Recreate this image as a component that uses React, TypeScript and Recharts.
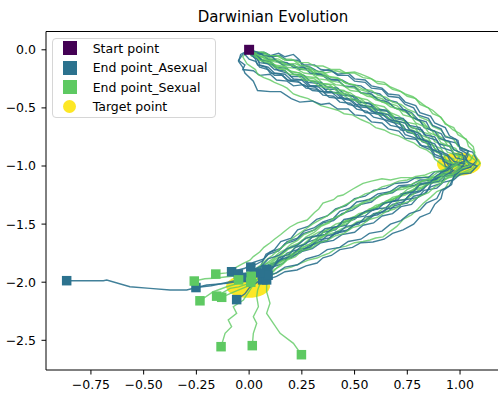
import React from "react";
import { ScatterChart, Scatter, XAxis, YAxis, ReferenceLine } from "recharts";

type P = [number, number];

const TITLE = "Darwinian Evolution";
const X_TICKS = [-0.75, -0.5, -0.25, 0, 0.25, 0.5, 0.75, 1.0];
const Y_TICKS = [0, -0.5, -1.0, -1.5, -2.0, -2.5];
const X_DOMAIN: [number, number] = [-0.963, 1.18];
const Y_DOMAIN: [number, number] = [-2.7556, 0.1575];

const LEGEND_LABELS = ["Start point", "End point_Asexual", "End point_Sexual", "Target point"];

const START: P[] = [[0, 0]];
const TARGETS: P[] = [[0.995, -0.983], [-0.005, -2.035]];

// Asexual trajectories
const B1: P[] = [[0,0],[0.03,-0.03],[0.07,-0.02],[0.1,-0.05],[0.14,-0.03],[0.17,-0.06],[0.21,-0.04],[0.24,-0.09],[0.25,-0.13],[0.29,-0.15],[0.33,-0.19],[0.38,-0.17],[0.42,-0.21],[0.47,-0.2],[0.5,-0.25],[0.55,-0.26],[0.58,-0.31],[0.63,-0.33],[0.66,-0.38],[0.71,-0.39],[0.74,-0.45],[0.79,-0.48],[0.81,-0.54],[0.86,-0.57],[0.88,-0.63],[0.93,-0.67],[0.95,-0.74],[0.99,-0.78],[1.0,-0.86],[1.04,-0.9],[1.02,-0.97],[0.97,-1.0],[0.95,-1.06],[0.9,-1.08],[0.87,-1.14],[0.81,-1.15],[0.78,-1.21],[0.72,-1.24],[0.69,-1.3],[0.63,-1.32],[0.59,-1.38],[0.53,-1.41],[0.5,-1.46],[0.44,-1.49],[0.41,-1.55],[0.35,-1.57],[0.32,-1.63],[0.27,-1.66],[0.23,-1.72],[0.18,-1.75],[0.14,-1.82],[0.09,-1.85],[0.06,-1.91],[0.01,-1.95],[-0.04,-1.99],[-0.106,-2.01],[-0.201,-2.024],[-0.296,-2.067],[-0.375,-2.067],[-0.47,-2.053],[-0.565,-2.039],[-0.675,-1.981],[-0.691,-1.987],[-0.865,-1.987]];
const B2: P[] = [[0,0],[-0.03,-0.04],[-0.05,-0.09],[-0.02,-0.13],[-0.03,-0.17],[0.02,-0.18],[0.05,-0.22],[0.1,-0.21],[0.13,-0.26],[0.18,-0.27],[0.21,-0.31],[0.26,-0.3],[0.3,-0.35],[0.35,-0.36],[0.38,-0.41],[0.44,-0.42],[0.47,-0.47],[0.52,-0.49],[0.55,-0.54],[0.61,-0.55],[0.64,-0.6],[0.69,-0.63],[0.72,-0.69],[0.77,-0.7],[0.8,-0.76],[0.84,-0.79],[0.86,-0.85],[0.9,-0.88],[0.92,-0.94],[0.96,-0.97],[0.94,-1.03],[0.91,-1.08],[0.88,-1.13],[0.84,-1.16],[0.81,-1.22],[0.76,-1.25],[0.73,-1.31],[0.68,-1.33],[0.64,-1.39],[0.59,-1.41],[0.55,-1.47],[0.5,-1.5],[0.46,-1.56],[0.41,-1.58],[0.37,-1.64],[0.31,-1.66],[0.27,-1.72],[0.22,-1.74],[0.18,-1.8],[0.13,-1.83],[0.09,-1.89],[0.04,-1.92],[0.0,-1.96],[-0.05,-1.98],[-0.1,-2.0],[-0.18,-2.03],[-0.252,-2.046]];
const B3: P[] = [[0,0],[0.02,-0.04],[0.06,-0.04],[0.09,-0.08],[0.13,-0.09],[0.16,-0.13],[0.21,-0.13],[0.24,-0.17],[0.28,-0.16],[0.31,-0.21],[0.36,-0.22],[0.39,-0.26],[0.44,-0.26],[0.48,-0.3],[0.53,-0.31],[0.57,-0.36],[0.62,-0.38],[0.65,-0.43],[0.7,-0.45],[0.73,-0.51],[0.77,-0.54],[0.8,-0.6],[0.84,-0.62],[0.86,-0.69],[0.91,-0.72],[0.93,-0.78],[0.98,-0.8],[1.01,-0.86],[1.06,-0.88],[1.08,-0.95],[1.05,-1.01],[1.0,-1.03],[0.97,-1.08],[0.91,-1.09],[0.87,-1.12],[0.81,-1.12],[0.77,-1.16],[0.71,-1.17],[0.67,-1.22],[0.61,-1.24],[0.57,-1.29],[0.51,-1.31],[0.48,-1.36],[0.43,-1.39],[0.4,-1.45],[0.35,-1.48],[0.31,-1.53],[0.26,-1.56],[0.23,-1.62],[0.18,-1.65],[0.15,-1.71],[0.1,-1.74],[0.07,-1.8],[0.02,-1.83],[-0.02,-1.88],[-0.083,-1.91]];
const B4: P[] = [[0,0],[-0.04,-0.04],[-0.05,-0.1],[-0.03,-0.15],[-0.02,-0.2],[0.02,-0.27],[0.04,-0.35],[0.1,-0.36],[0.15,-0.36],[0.2,-0.42],[0.24,-0.45],[0.3,-0.44],[0.34,-0.47],[0.38,-0.46],[0.42,-0.51],[0.47,-0.51],[0.5,-0.56],[0.55,-0.57],[0.58,-0.62],[0.63,-0.63],[0.66,-0.68],[0.71,-0.7],[0.74,-0.76],[0.79,-0.77],[0.82,-0.83],[0.86,-0.86],[0.88,-0.92],[0.93,-0.95],[0.95,-1.01],[0.91,-1.05],[0.89,-1.11],[0.86,-1.16],[0.84,-1.23],[0.8,-1.27],[0.77,-1.33],[0.72,-1.35],[0.68,-1.41],[0.63,-1.43],[0.59,-1.49],[0.54,-1.51],[0.5,-1.57],[0.44,-1.59],[0.4,-1.64],[0.34,-1.66],[0.3,-1.71],[0.24,-1.74],[0.2,-1.79],[0.14,-1.81],[0.1,-1.86],[0.04,-1.88],[0.0,-1.92],[-0.051,-1.93]];
const B5: P[] = [[0,0],[0.04,-0.05],[0.06,-0.09],[0.1,-0.1],[0.13,-0.15],[0.18,-0.16],[0.21,-0.21],[0.26,-0.22],[0.29,-0.27],[0.34,-0.28],[0.37,-0.32],[0.42,-0.33],[0.45,-0.38],[0.5,-0.4],[0.53,-0.45],[0.58,-0.47],[0.61,-0.52],[0.66,-0.53],[0.69,-0.59],[0.74,-0.61],[0.77,-0.67],[0.82,-0.69],[0.84,-0.75],[0.89,-0.78],[0.91,-0.84],[0.96,-0.87],[0.98,-0.93],[1.03,-0.95],[1.05,-1.01],[1.0,-1.04],[0.97,-1.1],[0.95,-1.17],[0.91,-1.21],[0.89,-1.28],[0.84,-1.32],[0.81,-1.38],[0.76,-1.41],[0.72,-1.47],[0.67,-1.5],[0.63,-1.56],[0.57,-1.58],[0.53,-1.63],[0.47,-1.65],[0.43,-1.7],[0.37,-1.72],[0.33,-1.77],[0.27,-1.8],[0.23,-1.85],[0.17,-1.87],[0.13,-1.92],[0.08,-1.95],[0.04,-2.0],[0.0,-2.05],[-0.02,-2.1],[-0.059,-2.15]];
const B6: P[] = [[0,0],[0.04,-0.03],[0.08,-0.03],[0.11,-0.06],[0.15,-0.05],[0.18,-0.09],[0.23,-0.09],[0.26,-0.13],[0.31,-0.13],[0.34,-0.17],[0.39,-0.18],[0.42,-0.22],[0.47,-0.22],[0.5,-0.27],[0.55,-0.28],[0.58,-0.33],[0.63,-0.34],[0.66,-0.4],[0.71,-0.41],[0.74,-0.47],[0.78,-0.5],[0.8,-0.56],[0.85,-0.59],[0.87,-0.65],[0.91,-0.68],[0.93,-0.75],[0.98,-0.77],[1.0,-0.84],[1.04,-0.87],[1.02,-0.94],[1.05,-0.99],[1.0,-1.01],[0.97,-1.06],[0.92,-1.07],[0.88,-1.12],[0.82,-1.13],[0.78,-1.17],[0.72,-1.18],[0.68,-1.23],[0.62,-1.25],[0.58,-1.31],[0.53,-1.33],[0.49,-1.38],[0.44,-1.41],[0.4,-1.47],[0.35,-1.49],[0.31,-1.55],[0.26,-1.58],[0.22,-1.64],[0.17,-1.67],[0.14,-1.73],[0.09,-1.76],[0.06,-1.82],[0.008,-1.87]];
const B7: P[] = [[0,0],[0.01,-0.05],[0.04,-0.08],[0.05,-0.13],[0.09,-0.15],[0.12,-0.2],[0.17,-0.21],[0.2,-0.26],[0.25,-0.26],[0.28,-0.31],[0.33,-0.32],[0.36,-0.37],[0.41,-0.37],[0.44,-0.42],[0.49,-0.44],[0.52,-0.49],[0.57,-0.5],[0.6,-0.55],[0.65,-0.57],[0.68,-0.62],[0.73,-0.65],[0.75,-0.71],[0.8,-0.73],[0.82,-0.79],[0.87,-0.82],[0.89,-0.88],[0.94,-0.91],[0.96,-0.98],[1.01,-1.0],[0.98,-1.06],[0.93,-1.09],[0.91,-1.15],[0.86,-1.18],[0.83,-1.24],[0.78,-1.26],[0.75,-1.32],[0.69,-1.34],[0.66,-1.39],[0.6,-1.41],[0.56,-1.47],[0.51,-1.49],[0.47,-1.55],[0.41,-1.57],[0.38,-1.62],[0.32,-1.64],[0.29,-1.7],[0.23,-1.72],[0.2,-1.78],[0.15,-1.8],[0.12,-1.86],[0.083,-1.89]];
const B8: P[] = [[0,0],[0.03,-0.06],[0.05,-0.11],[0.09,-0.12],[0.12,-0.17],[0.17,-0.18],[0.2,-0.23],[0.25,-0.23],[0.28,-0.28],[0.33,-0.29],[0.36,-0.34],[0.41,-0.34],[0.44,-0.39],[0.49,-0.4],[0.52,-0.45],[0.57,-0.46],[0.6,-0.51],[0.65,-0.52],[0.68,-0.58],[0.73,-0.59],[0.76,-0.65],[0.81,-0.67],[0.83,-0.73],[0.88,-0.75],[0.9,-0.81],[0.95,-0.83],[0.97,-0.89],[1.02,-0.91],[1.04,-0.97],[1.08,-1.0],[1.05,-1.06],[1.0,-1.07],[0.97,-1.12],[0.92,-1.14],[0.89,-1.19],[0.83,-1.21],[0.8,-1.27],[0.74,-1.29],[0.71,-1.35],[0.65,-1.37],[0.61,-1.42],[0.55,-1.44],[0.52,-1.5],[0.46,-1.52],[0.42,-1.58],[0.37,-1.6],[0.33,-1.66],[0.28,-1.69],[0.24,-1.75],[0.19,-1.78],[0.16,-1.84],[0.11,-1.87],[0.09,-1.93],[0.064,-1.98]];
const B9: P[] = [[0,0],[0.02,-0.03],[0.05,-0.07],[0.07,-0.11],[0.11,-0.13],[0.14,-0.18],[0.18,-0.2],[0.21,-0.25],[0.26,-0.26],[0.29,-0.31],[0.34,-0.31],[0.37,-0.36],[0.42,-0.37],[0.45,-0.42],[0.5,-0.43],[0.53,-0.48],[0.58,-0.49],[0.61,-0.54],[0.66,-0.56],[0.69,-0.61],[0.74,-0.63],[0.76,-0.69],[0.81,-0.72],[0.83,-0.78],[0.88,-0.81],[0.9,-0.87],[0.94,-0.9],[0.97,-0.96],[1.02,-0.98],[1.0,-1.04],[0.97,-1.09],[0.96,-1.16],[0.92,-1.21],[0.91,-1.28],[0.88,-1.33],[0.857,-1.405],[0.81,-1.44],[0.78,-1.5],[0.73,-1.55],[0.68,-1.58],[0.64,-1.63],[0.587,-1.654],[0.53,-1.66],[0.49,-1.7],[0.43,-1.72],[0.39,-1.77],[0.35,-1.79],[0.322,-1.835],[0.27,-1.86],[0.227,-1.895],[0.17,-1.91],[0.13,-1.95],[0.083,-1.98]];
const B10: P[] = [[0,0],[-0.02,-0.04],[0.0,-0.08],[0.03,-0.1],[0.05,-0.15],[0.09,-0.17],[0.12,-0.22],[0.16,-0.22],[0.19,-0.27],[0.24,-0.28],[0.27,-0.33],[0.32,-0.34],[0.35,-0.39],[0.4,-0.4],[0.43,-0.45],[0.48,-0.46],[0.51,-0.51],[0.56,-0.53],[0.59,-0.58],[0.64,-0.6],[0.67,-0.65],[0.72,-0.67],[0.74,-0.73],[0.79,-0.76],[0.81,-0.82],[0.86,-0.84],[0.88,-0.9],[0.92,-0.93],[0.93,-1.0],[0.97,-1.04],[0.93,-1.08],[0.9,-1.13],[0.85,-1.15],[0.82,-1.21],[0.77,-1.23],[0.74,-1.29],[0.68,-1.3],[0.65,-1.36],[0.59,-1.37],[0.55,-1.43],[0.49,-1.45],[0.46,-1.51],[0.4,-1.53],[0.36,-1.59],[0.3,-1.61],[0.27,-1.67],[0.22,-1.7],[0.19,-1.76],[0.14,-1.79],[0.12,-1.86],[0.09,-1.94]];
const B11: P[] = [[0,0],[0.04,-0.02],[0.07,-0.05],[0.11,-0.06],[0.13,-0.1],[0.18,-0.11],[0.21,-0.15],[0.26,-0.15],[0.29,-0.2],[0.34,-0.21],[0.37,-0.25],[0.42,-0.26],[0.45,-0.31],[0.5,-0.32],[0.53,-0.37],[0.58,-0.38],[0.61,-0.43],[0.66,-0.45],[0.69,-0.5],[0.74,-0.52],[0.77,-0.58],[0.81,-0.61],[0.83,-0.67],[0.88,-0.7],[0.9,-0.76],[0.95,-0.79],[0.97,-0.86],[1.01,-0.89],[1.02,-0.96],[0.97,-0.99],[0.94,-1.04],[0.88,-1.05],[0.85,-1.1],[0.79,-1.1],[0.75,-1.14],[0.69,-1.15],[0.65,-1.19],[0.59,-1.21],[0.55,-1.26],[0.5,-1.28],[0.46,-1.34],[0.41,-1.37],[0.37,-1.43],[0.32,-1.46],[0.28,-1.52],[0.23,-1.55],[0.2,-1.62],[0.15,-1.65],[0.12,-1.72],[0.08,-1.76],[0.06,-1.84],[0.05,-1.92]];
const B12: P[] = [[0,0],[0.01,-0.04],[0.03,-0.08],[0.04,-0.13],[0.08,-0.15],[0.1,-0.2],[0.15,-0.21],[0.18,-0.26],[0.23,-0.27],[0.26,-0.31],[0.31,-0.32],[0.34,-0.36],[0.39,-0.36],[0.42,-0.41],[0.47,-0.42],[0.5,-0.47],[0.55,-0.48],[0.58,-0.53],[0.63,-0.55],[0.66,-0.6],[0.71,-0.62],[0.73,-0.68],[0.78,-0.7],[0.8,-0.76],[0.85,-0.79],[0.87,-0.86],[0.91,-0.89],[0.92,-0.96],[0.96,-0.99],[0.93,-1.04],[0.89,-1.08],[0.86,-1.14],[0.81,-1.16],[0.78,-1.22],[0.73,-1.24],[0.7,-1.3],[0.64,-1.32],[0.61,-1.37],[0.55,-1.39],[0.51,-1.44],[0.45,-1.46],[0.42,-1.52],[0.36,-1.54],[0.32,-1.6],[0.27,-1.62],[0.23,-1.68],[0.18,-1.71],[0.14,-1.77],[0.09,-1.8],[0.06,-1.86],[0.01,-1.9],[-0.02,-1.96]];

// Sexual trajectories
const G1: P[] = [[0,0],[0.03,-0.03],[0.07,-0.04],[0.1,-0.07],[0.14,-0.08],[0.18,-0.12],[0.22,-0.12],[0.26,-0.15],[0.3,-0.17],[0.32,-0.2],[0.36,-0.2],[0.41,-0.18],[0.45,-0.2],[0.5,-0.19],[0.53,-0.21],[0.57,-0.24],[0.6,-0.27],[0.64,-0.28],[0.67,-0.32],[0.71,-0.35],[0.74,-0.38],[0.777,-0.404],[0.81,-0.45],[0.84,-0.49],[0.87,-0.52],[0.905,-0.576],[0.93,-0.63],[0.967,-0.69],[1.0,-0.72],[1.02,-0.76],[1.063,-0.834],[1.07,-0.9],[1.095,-0.977],[1.06,-1.04],[1.02,-1.06],[1.0,-1.08],[0.95,-1.1],[0.91,-1.13],[0.86,-1.13],[0.82,-1.16],[0.77,-1.17],[0.73,-1.2],[0.68,-1.21],[0.64,-1.24],[0.6,-1.27],[0.56,-1.29],[0.52,-1.33],[0.48,-1.36],[0.45,-1.41],[0.41,-1.44],[0.38,-1.49],[0.34,-1.52],[0.31,-1.57],[0.27,-1.61],[0.24,-1.66],[0.2,-1.69],[0.17,-1.74],[0.13,-1.78],[0.1,-1.83],[0.06,-1.86],[0.02,-1.91],[-0.03,-1.93],[-0.08,-1.95],[-0.106,-1.953],[-0.152,-1.964],[-0.21,-1.97],[-0.26,-1.99]];
const G2: P[] = [[0,0],[0.04,-0.05],[0.07,-0.07],[0.11,-0.1],[0.14,-0.11],[0.18,-0.15],[0.22,-0.16],[0.26,-0.2],[0.3,-0.21],[0.33,-0.25],[0.37,-0.26],[0.41,-0.3],[0.45,-0.31],[0.48,-0.35],[0.52,-0.36],[0.56,-0.4],[0.6,-0.41],[0.63,-0.45],[0.67,-0.47],[0.7,-0.51],[0.74,-0.53],[0.77,-0.58],[0.8,-0.6],[0.83,-0.65],[0.86,-0.68],[0.88,-0.73],[0.92,-0.76],[0.94,-0.82],[0.98,-0.85],[1.0,-0.91],[0.98,-0.97],[0.95,-1.02],[0.92,-1.07],[0.885,-1.1],[0.84,-1.09],[0.8,-1.11],[0.76,-1.1],[0.72,-1.1],[0.67,-1.12],[0.63,-1.11],[0.58,-1.13],[0.54,-1.15],[0.51,-1.18],[0.49,-1.2],[0.445,-1.25],[0.42,-1.26],[0.4,-1.29],[0.35,-1.32],[0.33,-1.37],[0.31,-1.4],[0.275,-1.465],[0.23,-1.49],[0.194,-1.525],[0.17,-1.56],[0.15,-1.59],[0.12,-1.63],[0.1,-1.66],[0.07,-1.7],[0.05,-1.74],[0.02,-1.78],[0.004,-1.81],[-0.03,-1.84],[-0.06,-1.87],[-0.106,-1.92],[-0.158,-1.93]];
const G3: P[] = [[0,0],[-0.03,-0.06],[-0.01,-0.12],[0.03,-0.17],[0.04,-0.21],[0.07,-0.24],[0.1,-0.26],[0.12,-0.28],[0.16,-0.31],[0.18,-0.33],[0.21,-0.38],[0.24,-0.4],[0.28,-0.42],[0.3,-0.44],[0.34,-0.48],[0.38,-0.5],[0.42,-0.52],[0.45,-0.55],[0.49,-0.56],[0.53,-0.6],[0.57,-0.63],[0.6,-0.67],[0.64,-0.69],[0.67,-0.72],[0.71,-0.74],[0.75,-0.78],[0.78,-0.8],[0.81,-0.84],[0.84,-0.86],[0.87,-0.9],[0.88,-0.94],[0.905,-0.975],[0.93,-1.01],[0.95,-1.04],[0.92,-1.08],[0.9,-1.11],[0.87,-1.13],[0.84,-1.17],[0.81,-1.2],[0.78,-1.24],[0.75,-1.28],[0.71,-1.3],[0.68,-1.34],[0.64,-1.36],[0.61,-1.4],[0.58,-1.43],[0.55,-1.46],[0.51,-1.48],[0.48,-1.52],[0.44,-1.54],[0.41,-1.57],[0.37,-1.59],[0.34,-1.62],[0.31,-1.67],[0.28,-1.7],[0.24,-1.72],[0.21,-1.75],[0.18,-1.79],[0.15,-1.82],[0.12,-1.85],[0.09,-1.88],[0.06,-1.92],[0.04,-1.94],[0.01,-1.97],[-0.02,-1.99],[-0.07,-2.02],[-0.106,-2.039],[-0.17,-2.082],[-0.233,-2.16]];
const G4: P[] = [[0,0],[0.03,-0.04],[0.05,-0.08],[0.09,-0.1],[0.12,-0.13],[0.16,-0.14],[0.19,-0.18],[0.24,-0.2],[0.27,-0.23],[0.32,-0.24],[0.35,-0.29],[0.4,-0.3],[0.43,-0.35],[0.48,-0.37],[0.51,-0.41],[0.56,-0.43],[0.59,-0.47],[0.64,-0.49],[0.67,-0.54],[0.71,-0.57],[0.74,-0.62],[0.79,-0.64],[0.81,-0.7],[0.86,-0.73],[0.88,-0.79],[0.92,-0.82],[0.94,-0.88],[0.99,-0.91],[1.01,-0.97],[1.04,-1.0],[1.0,-1.05],[0.98,-1.1],[0.95,-1.13],[0.93,-1.19],[0.89,-1.22],[0.86,-1.27],[0.826,-1.32],[0.8,-1.37],[0.77,-1.42],[0.73,-1.46],[0.7,-1.52],[0.67,-1.56],[0.635,-1.61],[0.6,-1.62],[0.573,-1.637],[0.54,-1.65],[0.5,-1.66],[0.46,-1.69],[0.416,-1.706],[0.38,-1.75],[0.35,-1.77],[0.322,-1.792],[0.28,-1.81],[0.24,-1.84],[0.2,-1.87],[0.16,-1.89],[0.13,-1.92],[0.09,-1.95],[0.05,-1.99],[0.0,-2.01],[-0.05,-2.04],[-0.09,-2.053],[-0.154,-2.12]];
const G5: P[] = [[0,0],[0.02,-0.05],[0.06,-0.06],[0.09,-0.09],[0.13,-0.09],[0.16,-0.12],[0.2,-0.13],[0.24,-0.16],[0.28,-0.16],[0.31,-0.2],[0.35,-0.21],[0.39,-0.24],[0.43,-0.25],[0.46,-0.29],[0.5,-0.3],[0.54,-0.34],[0.58,-0.35],[0.61,-0.39],[0.65,-0.41],[0.68,-0.45],[0.72,-0.47],[0.75,-0.51],[0.79,-0.54],[0.81,-0.58],[0.85,-0.61],[0.87,-0.66],[0.91,-0.69],[0.93,-0.74],[0.97,-0.77],[0.99,-0.83],[1.03,-0.86],[1.05,-0.92],[1.08,-0.96],[1.06,-1.02],[1.02,-1.05],[0.98,-1.08],[0.94,-1.1],[0.9,-1.14],[0.86,-1.15],[0.82,-1.19],[0.78,-1.21],[0.74,-1.25],[0.7,-1.27],[0.66,-1.31],[0.62,-1.34],[0.58,-1.38],[0.54,-1.41],[0.5,-1.45],[0.46,-1.48],[0.43,-1.52],[0.39,-1.55],[0.36,-1.59],[0.32,-1.62],[0.29,-1.67],[0.25,-1.7],[0.22,-1.74],[0.18,-1.78],[0.15,-1.83],[0.12,-1.86],[0.09,-1.91],[0.06,-1.94],[0.03,-1.99],[0.0,-2.03],[-0.04,-2.06],[-0.08,-2.09],[-0.13,-2.13]];
const G6: P[] = [[0,0],[0.04,-0.04],[0.06,-0.08],[0.1,-0.1],[0.13,-0.14],[0.17,-0.15],[0.2,-0.19],[0.24,-0.2],[0.27,-0.24],[0.31,-0.25],[0.34,-0.29],[0.38,-0.3],[0.41,-0.34],[0.45,-0.35],[0.48,-0.39],[0.52,-0.41],[0.55,-0.45],[0.59,-0.47],[0.62,-0.51],[0.66,-0.53],[0.69,-0.58],[0.73,-0.6],[0.75,-0.65],[0.79,-0.68],[0.81,-0.73],[0.85,-0.76],[0.87,-0.82],[0.91,-0.85],[0.93,-0.91],[0.97,-0.94],[0.98,-1.0],[0.94,-1.03],[0.91,-1.07],[0.87,-1.1],[0.84,-1.15],[0.8,-1.17],[0.77,-1.22],[0.73,-1.24],[0.69,-1.28],[0.65,-1.3],[0.61,-1.35],[0.57,-1.37],[0.53,-1.42],[0.49,-1.44],[0.45,-1.48],[0.41,-1.5],[0.37,-1.55],[0.33,-1.57],[0.29,-1.61],[0.25,-1.64],[0.22,-1.69],[0.18,-1.72],[0.15,-1.77],[0.12,-1.81],[0.09,-1.86],[0.06,-1.9],[0.03,-1.95],[0.008,-2.0]];
const G7: P[] = [[0,0],[0.03,-0.02],[0.06,-0.02],[0.09,-0.05],[0.13,-0.05],[0.16,-0.08],[0.2,-0.08],[0.24,-0.11],[0.28,-0.11],[0.31,-0.14],[0.35,-0.14],[0.39,-0.17],[0.43,-0.17],[0.46,-0.2],[0.5,-0.2],[0.54,-0.24],[0.58,-0.25],[0.61,-0.29],[0.65,-0.3],[0.68,-0.34],[0.72,-0.36],[0.75,-0.4],[0.79,-0.42],[0.81,-0.47],[0.85,-0.5],[0.87,-0.55],[0.91,-0.58],[0.93,-0.64],[0.97,-0.67],[0.99,-0.73],[1.03,-0.77],[1.04,-0.83],[1.07,-0.88],[1.05,-0.95],[1.02,-0.98],[0.98,-1.02],[0.95,-1.06],[0.91,-1.08],[0.87,-1.1],[0.83,-1.13],[0.79,-1.14],[0.75,-1.18],[0.71,-1.19],[0.67,-1.23],[0.63,-1.25],[0.59,-1.29],[0.55,-1.31],[0.51,-1.35],[0.47,-1.38],[0.44,-1.42],[0.4,-1.45],[0.37,-1.49],[0.33,-1.52],[0.3,-1.56],[0.26,-1.59],[0.23,-1.64],[0.2,-1.67],[0.17,-1.72],[0.14,-1.75],[0.11,-1.8],[0.08,-1.84],[0.05,-1.88],[0.03,-1.91],[0.01,-1.95]];
const G8: P[] = [[0,0],[0.01,-0.05],[0.04,-0.07],[0.07,-0.11],[0.11,-0.12],[0.14,-0.16],[0.18,-0.17],[0.21,-0.21],[0.25,-0.22],[0.28,-0.26],[0.32,-0.27],[0.35,-0.31],[0.39,-0.32],[0.42,-0.36],[0.46,-0.38],[0.49,-0.42],[0.53,-0.44],[0.56,-0.48],[0.6,-0.5],[0.63,-0.54],[0.67,-0.56],[0.7,-0.61],[0.74,-0.63],[0.76,-0.68],[0.8,-0.71],[0.82,-0.76],[0.86,-0.79],[0.88,-0.85],[0.92,-0.88],[0.93,-0.94],[0.96,-0.98],[0.93,-1.03],[0.89,-1.06],[0.86,-1.1],[0.82,-1.13],[0.79,-1.17],[0.75,-1.2],[0.72,-1.25],[0.68,-1.27],[0.64,-1.32],[0.6,-1.34],[0.56,-1.39],[0.52,-1.41],[0.48,-1.46],[0.44,-1.48],[0.41,-1.53],[0.37,-1.55],[0.33,-1.6],[0.29,-1.62],[0.26,-1.67],[0.22,-1.7],[0.19,-1.75],[0.15,-1.78],[0.12,-1.83],[0.09,-1.87],[0.06,-1.92],[0.04,-1.97],[0.02,-2.02],[0.0,-2.08],[-0.027,-2.153],[-0.075,-2.211],[-0.059,-2.268],[-0.099,-2.325],[-0.083,-2.383],[-0.114,-2.44],[-0.133,-2.555]];
const G9: P[] = [[0,0],[0.03,-0.05],[0.05,-0.09],[0.09,-0.11],[0.12,-0.15],[0.16,-0.17],[0.19,-0.21],[0.23,-0.22],[0.26,-0.26],[0.3,-0.27],[0.33,-0.31],[0.37,-0.33],[0.4,-0.37],[0.44,-0.38],[0.47,-0.42],[0.51,-0.44],[0.54,-0.48],[0.58,-0.5],[0.61,-0.55],[0.65,-0.57],[0.68,-0.61],[0.72,-0.64],[0.74,-0.69],[0.78,-0.72],[0.8,-0.77],[0.84,-0.8],[0.86,-0.86],[0.9,-0.89],[0.92,-0.95],[0.96,-0.97],[1.0,-1.01],[0.97,-1.06],[0.94,-1.1],[0.91,-1.15],[0.88,-1.18],[0.85,-1.23],[0.81,-1.26],[0.77,-1.3],[0.73,-1.32],[0.69,-1.37],[0.65,-1.39],[0.61,-1.44],[0.57,-1.46],[0.53,-1.51],[0.49,-1.53],[0.45,-1.58],[0.41,-1.6],[0.37,-1.64],[0.33,-1.66],[0.29,-1.71],[0.25,-1.73],[0.22,-1.78],[0.18,-1.81],[0.15,-1.86],[0.12,-1.89],[0.09,-1.94],[0.07,-1.98],[0.05,-2.02],[0.04,-2.07],[0.036,-2.125],[0.044,-2.211],[0.02,-2.297],[0.036,-2.354],[0.02,-2.44],[0.015,-2.546]];
const G10: P[] = [[0,0],[0.04,-0.02],[0.07,-0.02],[0.1,-0.05],[0.14,-0.05],[0.17,-0.09],[0.21,-0.09],[0.24,-0.13],[0.28,-0.14],[0.31,-0.18],[0.35,-0.19],[0.38,-0.23],[0.42,-0.24],[0.45,-0.28],[0.49,-0.3],[0.52,-0.34],[0.56,-0.36],[0.59,-0.4],[0.63,-0.42],[0.66,-0.46],[0.7,-0.48],[0.73,-0.53],[0.77,-0.55],[0.79,-0.6],[0.83,-0.63],[0.85,-0.68],[0.89,-0.71],[0.91,-0.77],[0.95,-0.8],[0.97,-0.86],[1.01,-0.89],[1.02,-0.95],[1.05,-0.99],[1.01,-1.02],[0.98,-1.06],[0.94,-1.08],[0.9,-1.12],[0.86,-1.14],[0.82,-1.18],[0.78,-1.2],[0.74,-1.24],[0.7,-1.27],[0.66,-1.31],[0.62,-1.34],[0.58,-1.38],[0.54,-1.41],[0.5,-1.45],[0.47,-1.49],[0.43,-1.52],[0.39,-1.56],[0.36,-1.59],[0.32,-1.64],[0.29,-1.67],[0.25,-1.71],[0.22,-1.75],[0.19,-1.79],[0.16,-1.83],[0.13,-1.88],[0.11,-1.92],[0.09,-1.98],[0.083,-2.03],[0.083,-2.082],[0.099,-2.182],[0.083,-2.268],[0.115,-2.354],[0.147,-2.44],[0.21,-2.526],[0.248,-2.624]];
const G11: P[] = [[0,0],[0.02,-0.03],[0.05,-0.05],[0.08,-0.06],[0.11,-0.09],[0.15,-0.1],[0.18,-0.13],[0.22,-0.14],[0.25,-0.17],[0.29,-0.18],[0.32,-0.22],[0.36,-0.23],[0.39,-0.27],[0.43,-0.28],[0.46,-0.32],[0.5,-0.33],[0.53,-0.37],[0.57,-0.39],[0.6,-0.43],[0.64,-0.45],[0.67,-0.49],[0.71,-0.51],[0.73,-0.56],[0.77,-0.58],[0.79,-0.63],[0.83,-0.66],[0.85,-0.71],[0.89,-0.74],[0.91,-0.8],[0.95,-0.83],[0.97,-0.89],[1.01,-0.92],[0.99,-0.98],[0.95,-1.01],[0.91,-1.04],[0.87,-1.05],[0.83,-1.08],[0.79,-1.09],[0.75,-1.12],[0.71,-1.13],[0.67,-1.16],[0.63,-1.18],[0.59,-1.22],[0.55,-1.24],[0.51,-1.28],[0.48,-1.31],[0.44,-1.35],[0.41,-1.38],[0.37,-1.43],[0.34,-1.46],[0.3,-1.5],[0.27,-1.54],[0.23,-1.59],[0.2,-1.63],[0.17,-1.68],[0.14,-1.72],[0.11,-1.77],[0.08,-1.81],[0.05,-1.86],[0.02,-1.9],[-0.01,-1.94],[-0.05,-1.98]];

const ASEXUAL: P[][] = [B1, B2, B3, B4, B5, B6, B7, B8, B9, B10, B11, B12];
const SEXUAL: P[][] = [G1, G2, G3, G4, G5, G6, G7, G8, G9, G10, G11];

const C_START = "#440154";
const C_ASEX = "#2c728e";
const C_SEX = "#5ec962";
const C_TARGET = "#fde725";
const FONT = "DejaVu Sans, sans-serif";

const toPts = (a: P[]) => a.map(([x, y]) => ({ x, y }));

const NoShape = () => <g />;
const squareShape = (size: number, color: string) => (p: any) => (
  <rect x={p.cx - size / 2} y={p.cy - size / 2} width={size} height={size} fill={color} />
);
const ellipseShape = (p: any) => <ellipse cx={p.cx} cy={p.cy} rx={22} ry={11.5} fill={C_TARGET} />;

const fmtX = (v: number) => (v < 0 ? "\u2212" : "") + Math.abs(v).toFixed(2);
const fmtY = (v: number) => (v < 0 ? "\u2212" : "") + Math.abs(v).toFixed(1);

export default function App() {
  const lines: React.ReactNode[] = [];
  const n = Math.max(ASEXUAL.length, SEXUAL.length);
  for (let i = 0; i < n; i++) {
    if (ASEXUAL[i]) {
      lines.push(
        <Scatter key={"a" + i} data={toPts(ASEXUAL[i])} fill={C_ASEX} shape={NoShape}
          line={{ stroke: C_ASEX, strokeWidth: 1.4, strokeOpacity: 0.9 }} isAnimationActive={false} />
      );
    }
    if (SEXUAL[i]) {
      lines.push(
        <Scatter key={"s" + i} data={toPts(SEXUAL[i])} fill={C_SEX} shape={NoShape}
          line={{ stroke: C_SEX, strokeWidth: 1.4, strokeOpacity: 0.8 }} isAnimationActive={false} />
      );
    }
  }
  const asexEnds = toPts(ASEXUAL.map((t) => t[t.length - 1]));
  const sexEnds = toPts(SEXUAL.map((t) => t[t.length - 1]));
  const legendColors = [C_START, C_ASEX, C_SEX, C_TARGET];
  const rowCenters = [10.6, 30, 49.6, 69];

  return (
    <div style={{ position: "absolute", left: 0, top: 0, width: 498, height: 395, background: "#fff", overflow: "hidden" }}>
      <ScatterChart width={498} height={395} margin={{ top: 31.5, right: 0, bottom: 0, left: 0 }}>
        <XAxis type="number" dataKey="x" domain={X_DOMAIN} ticks={X_TICKS} allowDataOverflow
          height={25} tickFormatter={fmtX} tickSize={4.5} tickMargin={5.5}
          axisLine={{ stroke: "#000", strokeWidth: 1 }} tickLine={{ stroke: "#000" }}
          tick={{ fill: "#000", fontSize: 12.5, fontFamily: FONT }} interval={0} />
        <YAxis type="number" dataKey="y" domain={Y_DOMAIN} ticks={Y_TICKS} allowDataOverflow
          width={46} tickFormatter={fmtY} tickSize={4.5} tickMargin={5.5}
          axisLine={{ stroke: "#000", strokeWidth: 1 }} tickLine={{ stroke: "#000" }}
          tick={{ fill: "#000", fontSize: 12.5, fontFamily: FONT }} interval={0} />
        <ReferenceLine y={Y_DOMAIN[1]} stroke="#000" strokeWidth={1} />
        <Scatter data={toPts(TARGETS)} fill={C_TARGET} shape={ellipseShape} isAnimationActive={false} />
        {lines}
        <Scatter data={asexEnds} fill={C_ASEX} shape={squareShape(9.5, C_ASEX)} isAnimationActive={false} />
        <Scatter data={sexEnds} fill={C_SEX} shape={squareShape(9.5, C_SEX)} isAnimationActive={false} />
        <Scatter data={toPts(START)} fill={C_START} shape={squareShape(10, C_START)} isAnimationActive={false} />
      </ScatterChart>
      <div style={{ position: "absolute", left: 0, top: 10, width: 546, textAlign: "center", fontFamily: FONT, fontSize: 15, lineHeight: "15px", color: "#000", whiteSpace: "nowrap" }}>
        {TITLE}
      </div>
      <div style={{ position: "absolute", left: 51.7, top: 37.7, width: 164.3, height: 80.6, boxSizing: "border-box", border: "1px solid #d6d6d6", borderRadius: 4, background: "rgba(255,255,255,0.8)" }}>
        {LEGEND_LABELS.map((label, i) => (
          <React.Fragment key={label}>
            {i < 3 ? (
              <div style={{ position: "absolute", left: 18.3 - 7 - 1, top: rowCenters[i] - 7 - 1, width: 14, height: 14, background: legendColors[i] }} />
            ) : (
              <div style={{ position: "absolute", left: 18.3 - 6.5 - 1, top: rowCenters[i] - 6.5 - 1, width: 13, height: 13, borderRadius: "50%", background: legendColors[i] }} />
            )}
            <div style={{ position: "absolute", left: 41 - 1, top: rowCenters[i] - 7.5 - 1, height: 15, lineHeight: "15px", fontFamily: FONT, fontSize: 12.5, color: "#000", whiteSpace: "nowrap" }}>
              {label}
            </div>
          </React.Fragment>
        ))}
      </div>
    </div>
  );
}
